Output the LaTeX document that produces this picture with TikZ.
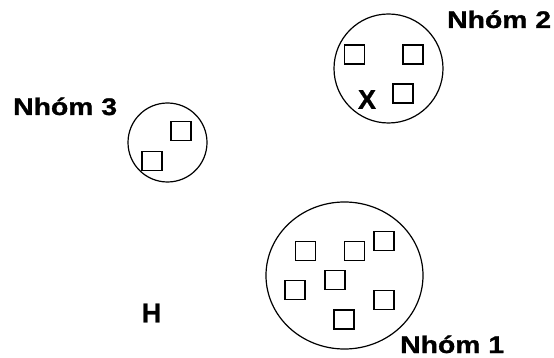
\documentclass[tikz,border=0pt]{standalone}
\usepackage{fontspec}
\setmainfont{Liberation Sans}
\newfontfamily\heavy[FakeBold=1]{Liberation Sans Bold}
\begin{document}
\begin{tikzpicture}[x=1pt,y=-1pt,
  group/.style={draw=black,line width=1.2pt},
  item/.style={draw=black,line width=1.2pt,minimum width=20pt,minimum height=19pt,inner sep=0pt},
  lbl/.style={font=\fontsize{24}{28}\heavy,inner sep=0pt,xscale=1.18,anchor=base west},
  letter/.style={font=\fontsize{27}{31}\heavy,inner sep=0pt}]
  \useasboundingbox (0,0) rectangle (554,358);
  % group circles
  \node[group,circle,minimum size=109pt,inner sep=0pt] (g2) at (388.5,68.5) {};
  \node[group,circle,minimum size=79pt,inner sep=0pt] (g3) at (167.5,142.5) {};
  \draw[group] (344.5,275.5) ellipse [x radius=78.5, y radius=73.5];
  \coordinate (g1) at (344.5,275.5);
  % members of group 2
  \node[item] (a1) at (354.5,54.5) {};
  \node[item] (a2) at (413,54.5) {};
  \node[item] (a3) at (403,93.5) {};
  % members of group 3
  \node[item] (b1) at (181,131) {};
  \node[item] (b2) at (152,161) {};
  % members of group 1
  \node[item] (c1) at (305.5,251) {};
  \node[item] (c2) at (354.5,251) {};
  \node[item] (c3) at (384,241) {};
  \node[item] (c4) at (335,280) {};
  \node[item] (c5) at (295,290) {};
  \node[item] (c6) at (384,300) {};
  \node[item] (c7) at (344,319.5) {};
  % labels
  \node[lbl] (n2) at (447,28) {Nhóm 2};
  \node[lbl] (n3) at (13,115) {Nhóm 3};
  \node[lbl] (n1) at (400,353) {Nhóm 1};
  \node[letter] (x) at (367,99.5) {X};
  \node[letter] (h) at (151.5,313) {H};
\end{tikzpicture}
\end{document}
